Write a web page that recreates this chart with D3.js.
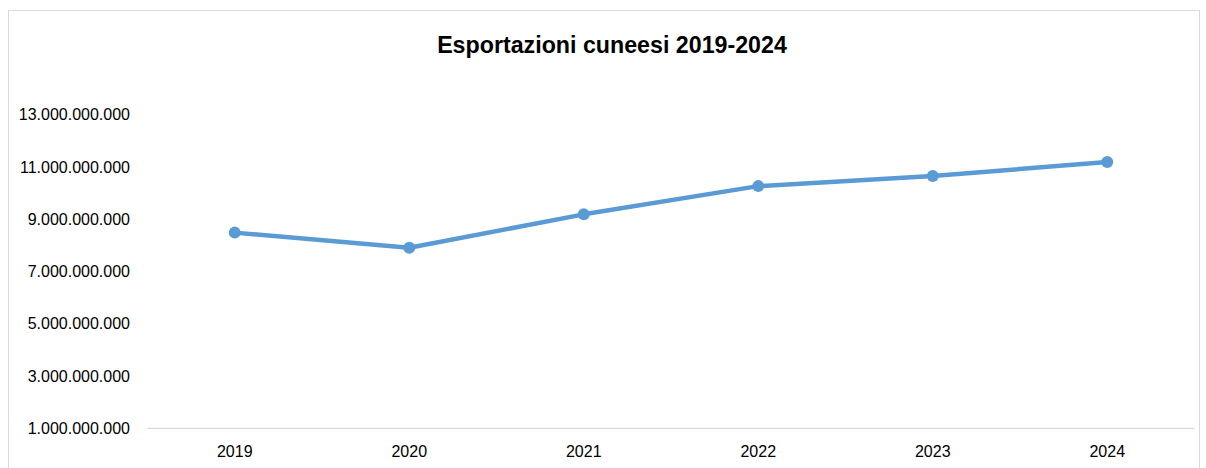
<!DOCTYPE html>
<html><head><meta charset="utf-8">
<script src="https://cdn.jsdelivr.net/npm/d3@7"></script>
<style>html,body{margin:0;padding:0;background:#fff;}svg{display:block;}</style>
</head><body>
<svg id="c" width="1206" height="468"></svg>
<script>
const title = "Esportazioni cuneesi 2019-2024";
const years = ["2019","2020","2021","2022","2023","2024"];
const exportsValues = [8490000000, 7910000000, 9190000000, 10270000000, 10660000000, 11190000000];
const yTicks = [1000000000, 3000000000, 5000000000, 7000000000, 9000000000, 11000000000, 13000000000];

const svg = d3.select("#c");
const font = "'Liberation Sans', Arial, sans-serif";

svg.append("rect").attr("x",8.5).attr("y",10.5).attr("width",1191).attr("height",470)
  .attr("fill","#fff").attr("stroke","#d9d9d9").attr("stroke-width",1);

const x = d3.scaleBand().domain(years).range([147.5, 1194.5]);
const y = d3.scaleLinear().domain([1000000000, 13000000000]).range([428.3, 114.8]);

const fmt = v => d3.format(",")(v).replace(/,/g, ".");

svg.append("line").attr("x1",x.range()[0]).attr("x2",x.range()[1])
  .attr("y1",y(1000000000)).attr("y2",y(1000000000))
  .attr("stroke","#d9d9d9").attr("stroke-width",1.3);

svg.append("g").selectAll("text").data(yTicks).join("text")
  .attr("x",130).attr("y",d=>y(d)).attr("dy","0.35em")
  .attr("text-anchor","end").attr("font-family",font).attr("font-size",16)
  .attr("fill","#000").text(fmt);

svg.append("g").selectAll("text").data(years).join("text")
  .attr("x",d=>x(d)+x.bandwidth()/2).attr("y",451).attr("dy","0.35em")
  .attr("text-anchor","middle").attr("font-family",font).attr("font-size",16)
  .attr("fill","#000").text(d=>d);

const data = years.map((yr,i)=>({yr, v: exportsValues[i]}));
const line = d3.line().x(d=>x(d.yr)+x.bandwidth()/2).y(d=>y(d.v));
svg.append("path").datum(data).attr("d",line).attr("fill","none")
  .attr("stroke","#5b9bd5").attr("stroke-width",4.5).attr("stroke-linejoin","round").attr("stroke-linecap","round");
svg.append("g").selectAll("circle").data(data).join("circle")
  .attr("cx",d=>x(d.yr)+x.bandwidth()/2).attr("cy",d=>y(d.v)).attr("r",6)
  .attr("fill","#5b9bd5");

const t = svg.append("text").attr("x",612).attr("y",45).attr("dy","0.35em")
  .attr("text-anchor","middle").attr("font-family",font).attr("font-weight","bold")
  .attr("font-size",20).attr("fill","#000").text(title);
const w = t.node().getComputedTextLength();
t.attr("font-size", 20*350/w);
</script>
</body></html>
